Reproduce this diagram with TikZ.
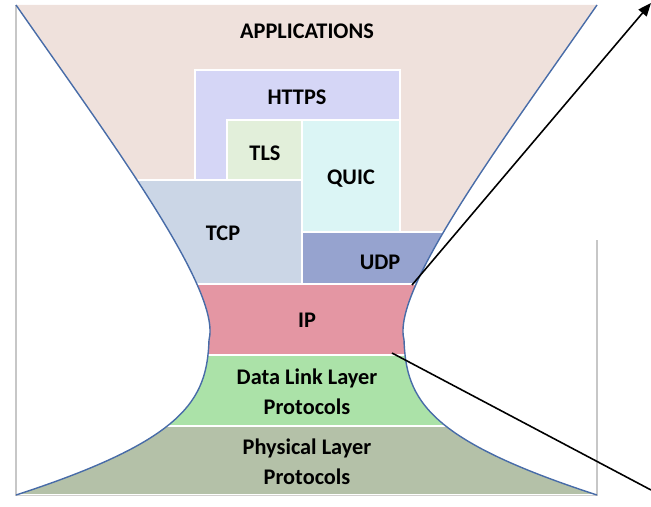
\documentclass[tikz,border=0pt]{standalone}
\usepackage{fontspec}
\setmainfont{Carlito}
\usetikzlibrary{arrows.meta}

\definecolor{appli}{RGB}{239,225,220}
\definecolor{https}{RGB}{213,214,246}
\definecolor{tls}{RGB}{226,239,218}
\definecolor{quic}{RGB}{219,245,245}
\definecolor{tcp}{RGB}{203,214,230}
\definecolor{udp}{RGB}{150,163,207}
\definecolor{ip}{RGB}{228,150,163}
\definecolor{liaison}{RGB}{171,226,168}
\definecolor{physique}{RGB}{180,193,168}
\definecolor{bordbleu}{RGB}{72,108,168}

\begin{document}
\begin{tikzpicture}[x=0.02cm,y=-0.02cm]
	\tikzstyle{couche}=[draw=white,line width=1.2pt]
	\tikzstyle{titre}=[font=\bfseries\fontsize{12.7}{17}\selectfont,align=center,inner sep=0pt]
	\tikzstyle{cadre}=[draw=black!22,line width=0.6pt]
	\tikzstyle{bord}=[draw=bordbleu,line width=0.8pt]
	\tikzstyle{fleche}=[-{Triangle[length=7.5pt,width=6pt]},line width=0.9pt]
	\useasboundingbox (0,0) rectangle (651,506);
	% cadre gris
	\draw[cadre] (16,5) -- (16,495) -- (597,495) -- (597,240);
	% sablier
	\begin{scope}
		\clip (16,5) .. controls (110,140) and (222,290) .. (209,340) .. controls (207,400) and (185,440) .. (16,495) -- (597,495) .. controls (428,440) and (406,400) .. (404,340) .. controls (391,290) and (503,140) .. (597,5) -- cycle;
		\fill[appli] (0,0) rectangle (651,506);
		\filldraw[couche,fill=https] (195,70) -- (400,70) -- (400,120) -- (227,120) -- (227,180) -- (195,180) -- cycle;
		\filldraw[couche,fill=tls] (227,120) rectangle (302,180);
		\filldraw[couche,fill=quic] (302,120) rectangle (400,232);
		\filldraw[couche,fill=tcp] (60,180) rectangle (302,284);
		\filldraw[couche,fill=udp] (302,232) rectangle (560,284);
		\filldraw[couche,fill=ip] (60,284) rectangle (560,355);
		\filldraw[couche,fill=liaison] (0,355) rectangle (651,426);
		\filldraw[couche,fill=physique] (0,426) rectangle (651,495);
	\end{scope}
	\draw[bord] (16,5) .. controls (110,140) and (222,290) .. (209,340) .. controls (207,400) and (185,440) .. (16,495);
	\draw[bord] (597,495) .. controls (428,440) and (406,400) .. (404,340) .. controls (391,290) and (503,140) .. (597,5);
	% textes
	\node[titre] (applications) at (307,31) {APPLICATIONS};
	\node[titre] (nhttps) at (297,97) {HTTPS};
	\node[titre] (ntls) at (265,153) {TLS};
	\node[titre] (nquic) at (351,179) {QUIC};
	\node[titre] (ntcp) at (223,233) {TCP};
	\node[titre] (nudp) at (380,262) {UDP};
	\node[titre] (nip) at (307,320) {IP};
	\node[titre] (nliaison) at (307,392) {Data Link Layer\\Protocols};
	\node[titre] (nphysique) at (307,462) {Physical Layer\\Protocols};
	% fleches
	\coordinate (depart1) at (412,285);
	\coordinate (bout1) at (651,3);
	\coordinate (depart2) at (392,353);
	\coordinate (bout2) at (651,490);
	\draw[fleche] (depart1) -- (bout1);
	\draw[line width=0.9pt] (depart2) -- (bout2);
\end{tikzpicture}
\end{document}
